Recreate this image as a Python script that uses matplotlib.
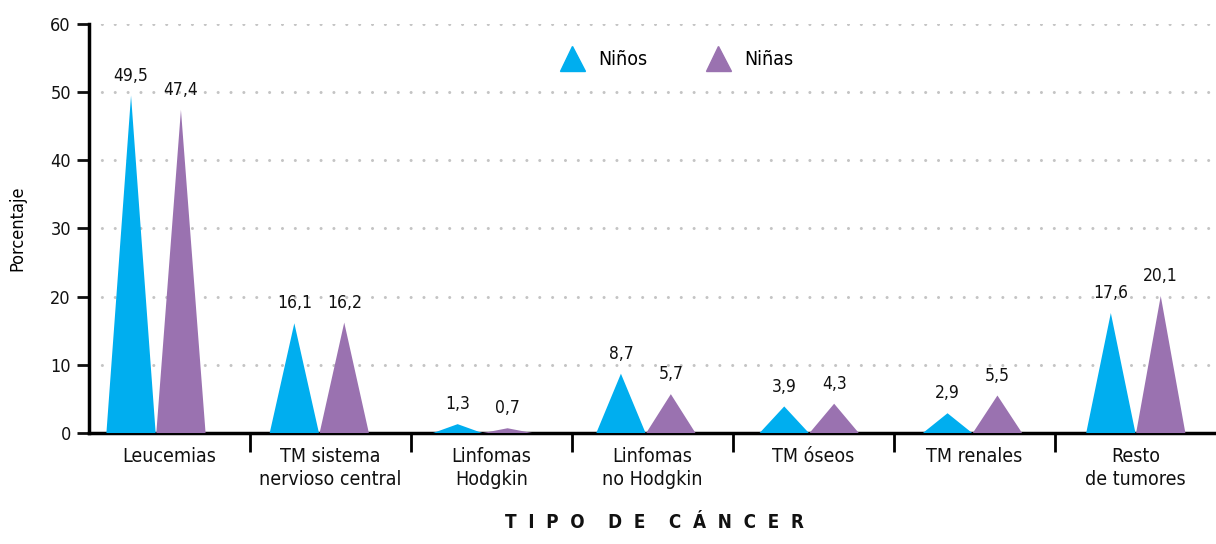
import numpy as np
import matplotlib
matplotlib.use('Agg')
import matplotlib.pyplot as plt
from matplotlib.lines import Line2D

plt.rcParams['font.family'] = ['DejaVu Sans']
plt.rcParams['font.stretch'] = 'condensed'

# data
categorias = ['Leucemias', 'TM sistema\nnervioso central', 'Linfomas\nHodgkin',
              'Linfomas\nno Hodgkin', 'TM óseos', 'TM renales', 'Resto\nde tumores']
ninos = [49.5, 16.1, 1.3, 8.7, 3.9, 2.9, 17.6]
ninas = [47.4, 16.2, 0.7, 5.7, 4.3, 5.5, 20.1]
series = ['Niños', 'Niñas']
colores = ['#00AEEF', '#9A72B0']

fig = plt.figure(figsize=(12.16, 5.44), dpi=100)
ax = fig.add_axes([0.0732, 0.204, 0.9268, 0.752])

n = len(categorias)
idx = np.arange(n)
# the peaks sit on a slightly wider grid than the category labels
centro = -0.084 + idx * 1.0143
half = 0.153
off = 0.155

for vals, col, sgn in [(ninos, colores[0], -1), (ninas, colores[1], 1)]:
    for c, v in zip(centro, vals):
        x = c + sgn * off
        ax.fill([x - half, x, x + half], [0, v, 0], color=col, lw=0, zorder=3)
        ax.text(x, v + 1.6, f'{v:.1f}'.replace('.', ','), ha='center', va='bottom',
                fontsize=12.5, color='#111111', zorder=4)

ax.set_xlim(-0.5, n - 0.5)
ax.set_ylim(0, 60)
ax.set_yticks(range(0, 61, 10))
ax.tick_params(axis='y', length=9, width=2, labelsize=13, pad=4, colors='#111111')
for y in range(10, 61, 10):
    ax.axhline(y, color='#c4c4c4', lw=2.2, ls=(0, (0.01, 4.2)), dash_capstyle='round', zorder=1)

# category labels at centres, separator ticks between
ax.set_xticks(idx[:-1] + 0.5)
ax.set_xticklabels([])
ax.tick_params(axis='x', length=14, width=2, direction='out')
for i, lab in enumerate(categorias):
    ax.text(i, -2.0, lab, ha='center', va='top', fontsize=14, color='#111111',
            linespacing=1.3)

for s in ['top', 'right']:
    ax.spines[s].set_visible(False)
ax.spines['left'].set_linewidth(2.5)
ax.spines['bottom'].set_linewidth(2.5)

ax.set_ylabel('Porcentaje', fontsize=13, labelpad=17)
fig.text(0.538, 0.04, 'T  I  P  O    D  E    C  Á  N  C  E  R', ha='center', va='center',
         fontsize=13.5, fontweight='bold', color='#111111')

handles = [Line2D([], [], marker='^', ls='', color=c, markersize=18) for c in colores]
ax.legend(handles, series, loc='center', bbox_to_anchor=(0.518, 0.913), ncol=2, frameon=False,
          fontsize=14, handletextpad=0.35, columnspacing=2.6)

fig.savefig('out.png', dpi=100)
